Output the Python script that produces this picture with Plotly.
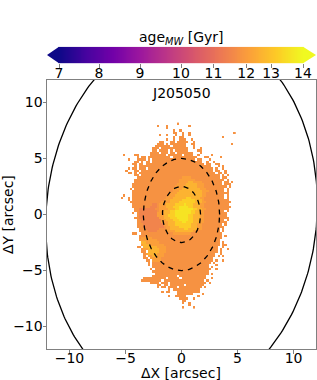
import numpy as np
import plotly.graph_objects as go

age_ticks = [7, 8, 9, 10, 11, 12, 13, 14]
cbar_frac = [0, 0.164, 0.332, 0.5, 0.633, 0.767, 0.869, 1]
axis_ticks = [-10, -5, 0, 5, 10]
code_age = {"r": 11.5, "o": 11.8, "l": 12.1, "y": 12.6, "Y": 13.2, "Z": 13.6}
cell = 0.2
first_col_x = -5.5
first_row_y = 8.1
outer_ellipse = [12.08, 16.57, -5.06]
mid_ellipse = [3.4, 5.0]
inner_ellipse = [1.7, 2.5]

age_map = [
"..........................o",
".................o...o.........o",
".....................o",
"........................o..o",
"........................oo..o..o...................o",
"..................o..o...o..o..o",
"........................o..oo.................o",
".....................o..o..ooo..o",
"..................oo...oo.ooooo..o",
".................ooo.o.ooooooo..oo................o",
"................ooooooo.oooooo...o",
"...............ooo.oooooooooooo..o..o",
"...............oo.oooo.o.oooooo....oo",
"..............oooo.ooo.oo.ooooooo...o",
"..o....oo.....ooooooo.oooooo.oooo..o.....o",
"........o.oo.oooooooooo.ooooooooooo...oo.....o",
"....o...oooo.o.ooooooooooooooooooo.oo...o",
".......oo.o.oo.oooooooooooooooooooooo..o..o",
"......oo.oo.oooooooooooooooooooooooooo.oo..oo",
".......o.oooooooooooooooooooooooooooooooo...o.o",
"....o.oo.ooo.ooooooooooooooooooooooooooooo.o..o",
"...o...oo.oooooooooooooooooooooooooooooooo.oo..o",
"....oo.o.oooooooooooooooooooooooooooooooooo.oo.o",
".......oo.ooooooooooooooooooooooooooooooooooo.o.o",
"........oooooooooooooooooooollllooooooooooooo.oo",
".......oooooooooooooooooooolllllllooooooooooooo.o",
".......oooooooooooooooooooollllyyllllooooooooo.oo.o",
"......oooooooooooooooooooollllyyyyyllloooooooo.ooo",
"......ooooooooooooooooooollllyyyyyyllloooooooooo.o",
".....o.ooooooooooooooooollllyyyyyyyyllloooooooo.o",
"......oooooooooooooooooolllyyyyyyyyyylllooooooo.o",
"......ooooooooooooooooolllyyyyyyyyyyylloooooooooo",
"..o...oooooooooooooooolllyyyyyyyyyyyylloooooooo.o",
".o..o.ooooooooooooooolllyyyyyyYYyyyyllooooooooo.o",
"....o.oooooooooooooolllyyyyyYYYYYYyyylooooooooooo",
".....oooooooooooooollllyyyyYYYYYYYyyyllooooooooooo",
"......ooooooooorrolllyyyyYYYYZYYYyyyllooooooooooo",
"......oooooooorrrolllyyyYYYZZZZYYyyylloooooooooooo",
".......oorrrrrrroollllyyyYYZZZZZZYYyylloooooooooo",
".......oorrrrrrrrollyyyYYZZZZZZZYYyyllooooooooo.o",
"......o.orrrrrrrrlllyyyYYZZZZZZZYYyylloooooooooo",
"........orrrrrrrrlllyyYYYZZZZZZYYyyylloooooooooo",
".......oorrrrrrrrrllyyyYYYZZZZZYYyyyllooooooooooo",
"........oorrrrrrrrrllyyyYYYZZZZYYyyyllooooooooo.o",
"........oorrrrrrrrrlllyyyYYYZZYYYyyylloooooooooo",
"........ooorrrrrrrrrllyyyYYYYYYYyyyllooooooooo.o",
"........ooorrrrrrrrrollyyyyYYYYYyyylloooooooooo",
".........ooorrrrrrooollyyyyyyYYyyyylloooooooo.o",
".........oooorrrroooollllyyyyyyyylloooooooooo.o",
"......oo..oooooooooooooolllllllloooooooooooooo",
".........ooolooooooooooooooooooooooooooooooooo.o",
".........olllllooooooooooooooooooooooooooooooo",
".........lllllllloooooooooooooooooooooooooooo",
"..........yyllllllooooooooooooooooooooooooooo.o",
"..........lyyyllllllooooooooooooooooooooooooo.oo",
"........oo.yyyyyyllllooooooooooooooooooooooo..o",
"..........ollyyyyylllooooooooooooooooooooooo.o..o",
"..........oo.yyyyylllooooooooooooooooooooooo.o",
"...........olyyyylllooooooooooooooooooooooo..o",
"...........o.llyylllooooooooooooooooooooooo.o.o",
"...........oo.lllllooooooooooooooooooooooo.",
"............oo.llllooooooooooooooooooooooo.o..o",
".............o.oooooooooooooooooooooooooo.o",
".............o.ooooooooooooooooooooooooo...o",
"...............ooooooooooooooooooooooooo.o",
"..............o.ooooooooooooooooooooooooo..o",
"...............ooooooooooooooooooooooooo",
"................oooooooooooooooooooooooo.o",
"...............ooooooooooo.oooooooooooo",
"...........oooooooooo.ooooo.ooooooooooo..o",
"..........ooooooooo.oooooooooooooooooo.o",
"..............oooo.ooo.oooooooooooooooo.o",
".................oo.oo.oooooo.oooooooo",
".................o.oo.oooo.oooooooooo.o",
"......................o.oooooooooooo",
"...................o.oo...oooooooooo",
"..........................ooooooo....o",
"......................o..ooooo.....o",
"...........................oooo..o",
"............................oo",
"............................o..o",
"...............................o",
"............................o....o",
]

W, H = 317, 380
ncols = max(len(r) for r in age_map)
z = np.full((len(age_map), ncols), np.nan)
for i, row in enumerate(age_map):
    for j, ch in enumerate(row):
        if ch in code_age:
            z[i, j] = np.interp(code_age[ch], age_ticks, cbar_frac)


def ellipse(a, b, deg=0.0):
    t = np.linspace(0, 2 * np.pi, 361)
    th = np.radians(deg)
    return (a * np.cos(t) * np.cos(th) - b * np.sin(t) * np.sin(th),
            a * np.cos(t) * np.sin(th) + b * np.sin(t) * np.cos(th))


fig = go.Figure()
fig.add_trace(go.Heatmap(z=z, x0=first_col_x, dx=cell, y0=first_row_y, dy=-cell,
                         colorscale="Plasma", zmin=0, zmax=1, showscale=False,
                         hoverongaps=False, xaxis="x", yaxis="y"))
ex, ey = ellipse(*outer_ellipse)
fig.add_trace(go.Scatter(x=ex, y=ey, mode="lines", line=dict(color="black", width=1.3),
                         xaxis="x", yaxis="y", showlegend=False))
for e in (mid_ellipse, inner_ellipse):
    ex, ey = ellipse(*e)
    fig.add_trace(go.Scatter(x=ex, y=ey, mode="lines",
                             line=dict(color="black", width=1.3, dash="5px,5px"),
                             xaxis="x", yaxis="y", showlegend=False))

frac = np.linspace(0, 1, 256)
fig.add_trace(go.Heatmap(z=[frac, frac], x=frac, y=[0, 1], colorscale="Plasma", zmin=0, zmax=1,
                         showscale=False, xaxis="x2", yaxis="y2"))
x_lo, x_hi = -12 / 244, 1 + 13 / 244
fig.add_trace(go.Scatter(x=[x_lo, 0, 0, x_lo], y=[0.5, 1.5, -0.5, 0.5], mode="lines", fill="toself",
                         fillcolor="#0d0887", line=dict(width=0), xaxis="x2", yaxis="y2", showlegend=False))
fig.add_trace(go.Scatter(x=[x_hi, 1, 1, x_hi], y=[0.5, 1.5, -0.5, 0.5], mode="lines", fill="toself",
                         fillcolor="#f0f921", line=dict(width=0), xaxis="x2", yaxis="y2", showlegend=False))

font = dict(family="DejaVu Sans", size=14, color="black")
grey = "#808080"
axis_style = dict(tickmode="array", tickvals=axis_ticks, range=[-12, 12], ticks="outside", ticklen=3.5,
                  tickwidth=1, tickcolor=grey, showgrid=False, zeroline=False, showline=True,
                  linecolor=grey, linewidth=1, mirror=True, tickfont=font)
fig.update_layout(
    width=W, height=H, autosize=False, margin=dict(l=0, r=0, t=0, b=0),
    paper_bgcolor="white", plot_bgcolor="white", showlegend=False, font=font,
    xaxis=dict(domain=[47 / W, 316 / W], anchor="y", ticklabelstandoff=-7, **axis_style),
    yaxis=dict(domain=[(H - 349) / H, (H - 80) / H], anchor="x", ticklabelstandoff=-3, **axis_style),
    xaxis2=dict(domain=[47 / W, 316 / W], anchor="y2", range=[x_lo, x_hi], tickmode="array",
                tickvals=cbar_frac, ticktext=[str(a) for a in age_ticks], ticks="outside", ticklen=3.5,
                tickcolor=grey, tickfont=font, showgrid=False, zeroline=False, showline=False,
                ticklabelstandoff=-7),
    yaxis2=dict(domain=[(H - 63.3) / H, (H - 46.7) / H], anchor="x2", range=[-0.5, 1.5], visible=False),
    annotations=[
        dict(text="age<sub><i>MW</i></sub> [Gyr]", x=181 / W, y=1 - 38 / H, xref="paper", yref="paper",
             showarrow=False, font=font, xanchor="center", yanchor="middle"),
        dict(text="J205050", x=181 / W, y=1 - 93 / H, xref="paper", yref="paper",
             showarrow=False, font=font, xanchor="center", yanchor="middle"),
        dict(text="ΔX [arcsec]", x=181 / W, y=1 - 373 / H, xref="paper", yref="paper",
             showarrow=False, font=font, xanchor="center", yanchor="middle"),
        dict(text="ΔY [arcsec]", x=8 / W, y=1 - 215 / H, xref="paper", yref="paper", textangle=-90,
             showarrow=False, font=font, xanchor="center", yanchor="middle"),
    ],
)
fig.write_html("out.html", config={"displayModeBar": False},
               post_script="document.body.style.margin='0';document.body.style.overflow='hidden';")
